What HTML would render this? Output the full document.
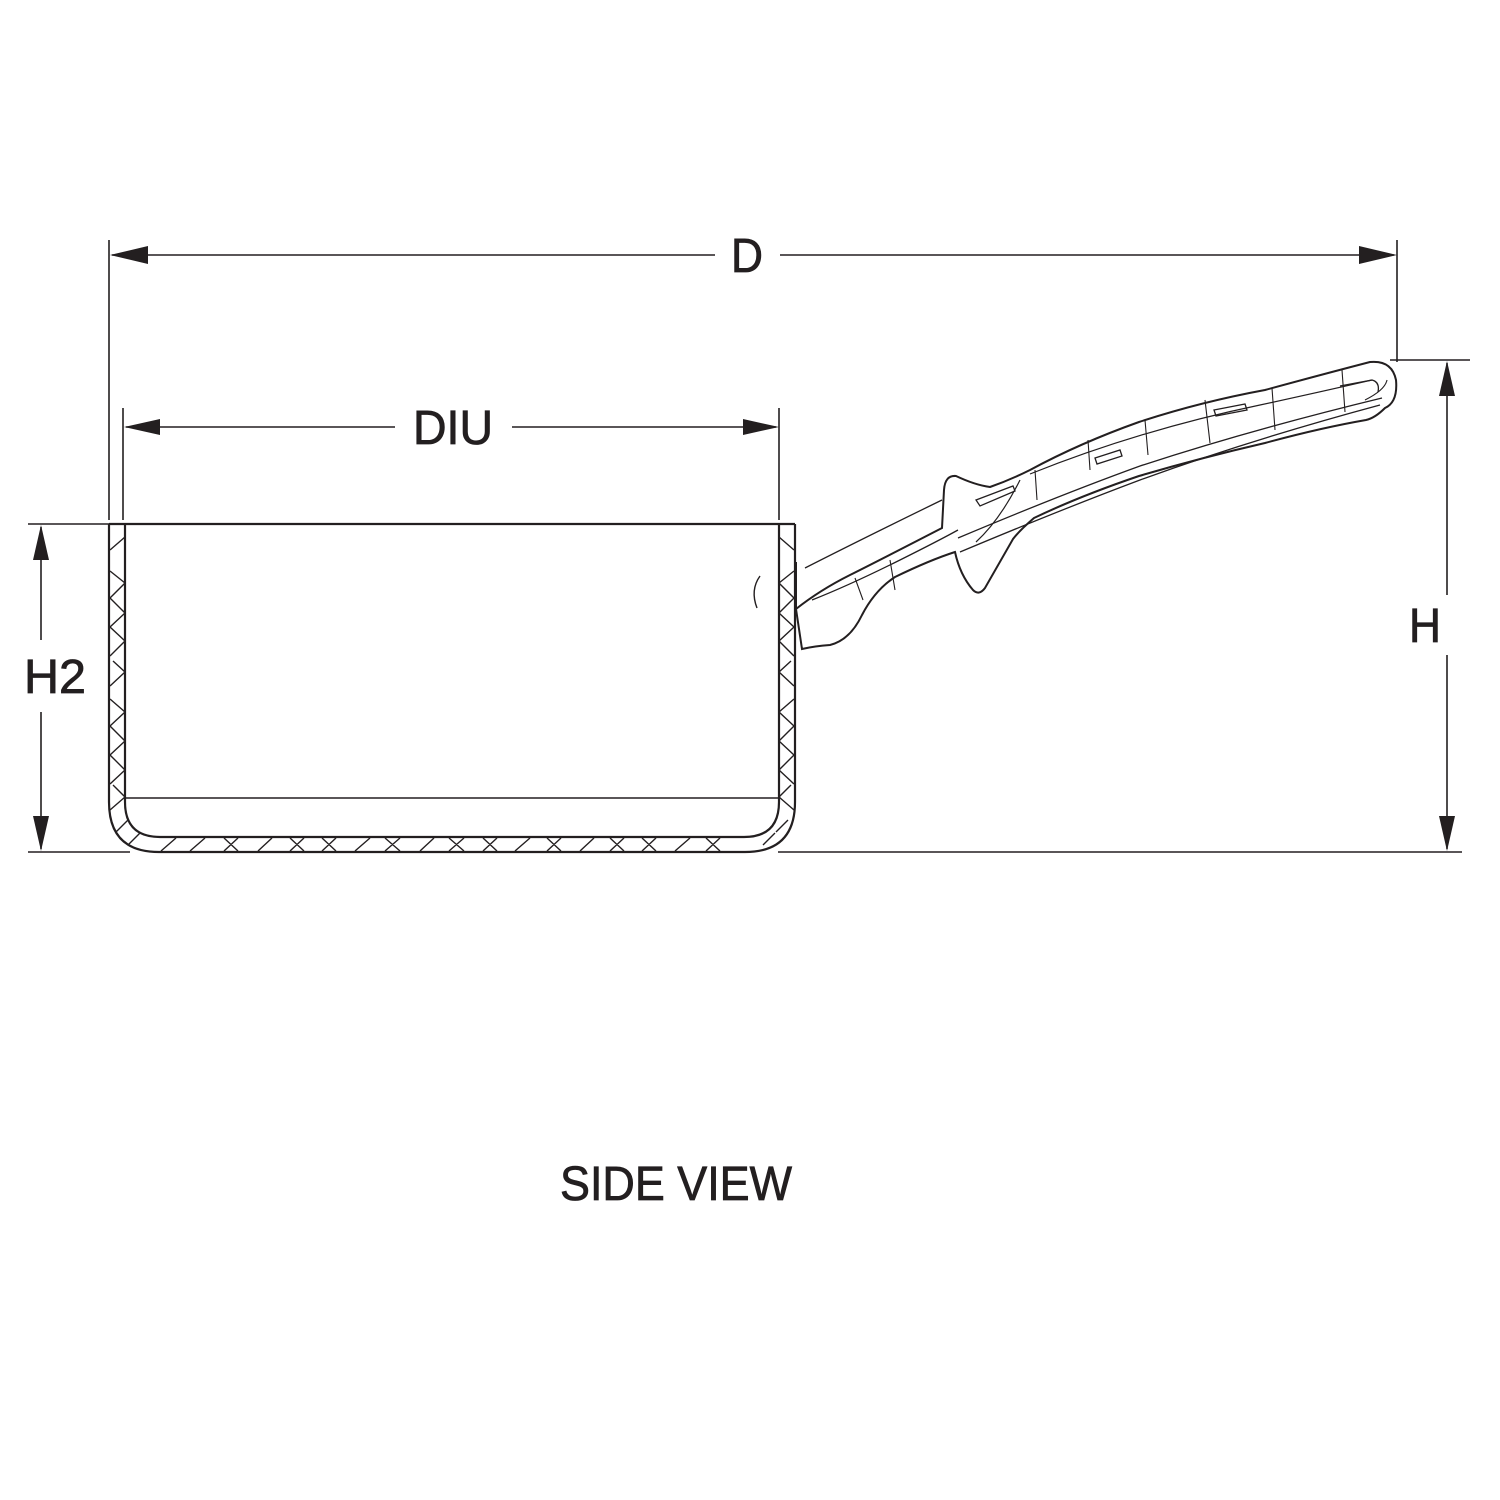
<!DOCTYPE html>
<html><head><meta charset="utf-8"><style>html,body{margin:0;padding:0;background:#fff}svg{display:block}</style></head>
<body>
<svg width="1500" height="1500" viewBox="0 0 1500 1500" xmlns="http://www.w3.org/2000/svg">
<rect width="1500" height="1500" fill="#fff"/>
<g stroke="#231f20" fill="none" stroke-width="1.6">
<line x1="109" y1="240" x2="109" y2="520"/>
<line x1="1397" y1="240" x2="1397" y2="362"/>
<line x1="123" y1="408" x2="123" y2="520"/>
<line x1="779" y1="408" x2="779" y2="520"/>
<line x1="28" y1="524" x2="130" y2="524"/>
<line x1="28" y1="852" x2="130" y2="852"/>
<line x1="1390" y1="360" x2="1470" y2="360"/>
<line x1="778" y1="852" x2="1462" y2="852"/>
<line x1="112" y1="255" x2="715" y2="255"/>
<line x1="780" y1="255" x2="1394" y2="255"/>
<line x1="126" y1="427" x2="395" y2="427"/>
<line x1="512" y1="427" x2="776" y2="427"/>
<line x1="41" y1="527" x2="41" y2="640"/>
<line x1="41" y1="712" x2="41" y2="849"/>
<line x1="1447" y1="363" x2="1447" y2="595"/>
<line x1="1447" y1="655" x2="1447" y2="849"/>
</g>
<g fill="#231f20">
<polygon points="110,255 148,246 148,264"/>
<polygon points="1397,255 1359,246 1359,264"/>
<polygon points="124,427 160,419 160,435"/>
<polygon points="779,427 743,419 743,435"/>
<polygon points="41,525 33,560 49,560"/>
<polygon points="41,851 33,816 49,816"/>
<polygon points="1447,361 1439,396 1455,396"/>
<polygon points="1447,851 1439,816 1455,816"/>
</g>
<g stroke="#231f20" fill="none" stroke-width="2.2">
<path d="M109,524 L795,524"/>
<path d="M109,524 L109,802 Q109,852 159,852 L745,852 Q795,852 795,802 L795,524"/>
<path d="M125,524 L125,802 Q125,837 160,837 L744,837 Q779,837 779,802 L779,524"/>
<line x1="125" y1="798" x2="779" y2="798" stroke-width="1.6"/>
<path d="M760,576 Q750,590 757,608" stroke-width="1.4"/>
</g>
<g stroke="#231f20" fill="none" stroke-width="1.4">
<path d="M125,537 L110,550 M110,571 L125,583 L110,598 L125,613 L110,627 L125,641 L110,656 M113,661 L125,672 L110,686 M110,699 L125,712 L110,726 L125,741 L110,755 L125,770 L110,784 M113,785 L125,797 L110,810"/>
<path d="M779,537 L794,550 M794,571 L779,583 L794,598 L779,613 L794,627 L779,641 L794,656 M791,661 L779,672 L794,686 M794,699 L779,712 L794,726 L779,741 L794,755 L779,770 L794,784 M791,785 L779,797 L794,810"/>
<path d="M161,851 L176,838 M190,851 L205,838 M224,838 L238,851 M238,838 L224,851 M258,851 L272,838 M290,838 L304,851 M304,838 L290,851 M322,838 L336,851 M336,838 L322,851 M355,851 L370,838 M385,838 L400,851 M400,838 L385,851 M420,851 L434,838 M449,838 L464,851 M464,838 L449,851 M483,838 L497,851 M497,838 L483,851 M515,851 L530,838 M547,838 L561,851 M561,838 L547,851 M580,851 L594,838 M610,838 L624,851 M624,838 L610,851 M642,838 L656,851 M656,838 L642,851 M675,851 L690,838 M706,838 L720,851 M720,838 L706,851"/>
<path d="M116,832 L128,820 M128,845 L140,833 M763,845 L775,833 M776,832 L788,820"/>
</g>
<g stroke="#231f20" fill="none" stroke-width="2">
<path d="M796,562 L796,609 Q820,590 850,575 Q880,560 942,528 L944,490 Q945,475 956,476 Q975,485 990,487 Q1010,480 1030,470 Q1080,443 1139,422 Q1200,402 1265,390 Q1320,375 1370,362 Q1392,360 1396,380 Q1398,402 1385,408 Q1375,418 1366,420 Q1320,428 1265,443 Q1200,458 1139,476 Q1080,496 1034,518 Q1020,530 1013,539 L985,588 Q979,596 973,590 Q960,575 955,552 Q930,560 895,577 Q875,590 862,615 Q850,640 830,645 Q815,646 802,649 L796,609"/>
<path d="M805,568 Q860,540 942,500" stroke-width="1.3"/>
<path d="M812,600 Q850,585 900,560 Q940,540 958,530" stroke-width="1.3"/>
<path d="M960,552 Q1060,510 1140,480 Q1250,440 1380,405" stroke-width="1.3"/>
<path d="M958,538 Q1060,495 1140,466 Q1250,430 1382,398" stroke-width="1.3"/>
<path d="M1030,474 Q1140,430 1260,405 Q1320,392 1372,380" stroke-width="1.2"/>
<path d="M976,500 L1013,486 L1015,491 L980,506 Z" stroke-width="1.3"/>
<path d="M976,542 Q1000,520 1020,480" stroke-width="1.2"/>
<path d="M1095,458 L1120,450 L1122,456 L1097,464 Z M1214,410 L1245,404 L1247,410 L1216,416 Z M1340,386 L1372,380 Q1380,382 1378,392" stroke-width="1.3"/>
<path d="M1088,440 L1090,470 M1145,420 L1148,455 M1205,400 L1210,443 M1272,388 L1275,430 M1342,370 L1345,412 M1035,470 L1037,500 M890,560 L895,590 M855,578 L863,600 M1365,400 Q1385,390 1387,380" stroke-width="1.1"/>
</g>
<g fill="#231f20" stroke="#231f20" stroke-width="0.8" font-family="'Liberation Sans Narrow','Liberation Sans',sans-serif" font-size="48">
<text x="747" y="272" text-anchor="middle" textLength="32" lengthAdjust="spacingAndGlyphs">D</text>
<text x="453" y="444" text-anchor="middle" textLength="80" lengthAdjust="spacingAndGlyphs">DIU</text>
<text x="55" y="693" text-anchor="middle" textLength="62" lengthAdjust="spacingAndGlyphs">H2</text>
<text x="1425" y="642" text-anchor="middle" textLength="32" lengthAdjust="spacingAndGlyphs">H</text>
<text x="676" y="1200" text-anchor="middle" textLength="232" lengthAdjust="spacingAndGlyphs">SIDE VIEW</text>
</g>
</svg>
</body></html>
